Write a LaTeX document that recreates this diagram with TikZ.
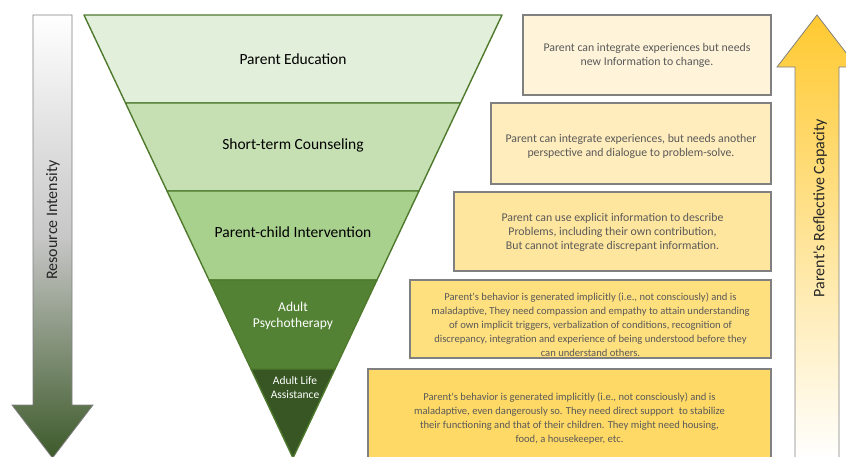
\documentclass[tikz,border=0pt]{standalone}
\usepackage{fontspec}
\setmainfont{Carlito}
\usepackage{xcolor}
\definecolor{band1}{HTML}{E2EFDA}
\definecolor{band2}{HTML}{C6E0B4}
\definecolor{band3}{HTML}{A9D18E}
\definecolor{band4}{HTML}{548235}
\definecolor{band5}{HTML}{375623}
\definecolor{funnelline}{HTML}{4F7A2E}
\definecolor{note1}{HTML}{FFF4DA}
\definecolor{note2}{HTML}{FFEDBD}
\definecolor{note3}{HTML}{FFE69F}
\definecolor{note4}{HTML}{FFE07F}
\definecolor{note5}{HTML}{FFD966}
\definecolor{notetext}{HTML}{595959}
\definecolor{noteline}{HTML}{808080}
\definecolor{capyellow}{HTML}{FFC930}
\definecolor{resgreen}{HTML}{3D5A2A}
\newcommand{\apos}{\textquotesingle}
\tikzset{
    lbl/.style={font=\fontsize{15.5}{18}\selectfont, align=center, text=black},
    wlbl/.style={align=center, text=white},
    notebox/.style={draw=noteline, line width=1.6pt, inner sep=0pt},
    notetxt/.style={align=center, text=notetext, inner sep=0pt},
    sidelbl/.style={rotate=90, font=\fontsize{16}{18}\selectfont, text=black!85}
}
\begin{document}
\begin{tikzpicture}[x=1pt,y=-1pt]
\clip (0,0) rectangle (846,456);
% resource intensity arrow
\shade[top color=white, bottom color=resgreen, middle color=black!22, draw=noteline, line width=0.8pt]
    (33,15) -- (72,15) -- (72,405) -- (93,405) -- (52.5,458) -- (12,405) -- (33,405) -- cycle;
\node[sidelbl] (resint) at (53,220) {Resource Intensity};
% reflective capacity arrow
\shade[top color=capyellow, bottom color=white, draw=noteline, line width=0.8pt]
    (795,460) -- (795,67) -- (777,67) -- (817,15) -- (857,67) -- (839,67) -- (839,460) -- cycle;
\node[sidelbl] (refcap) at (820,208) {Parent\apos s Reflective Capacity};
% funnel bands
\foreach \ya/\yb/\col in {15/103/band1, 103/191/band2, 191/280/band3, 280/369/band4, 369/458/band5}{
    \pgfmathsetmacro\wa{0.47178*(458-\ya)}
    \pgfmathsetmacro\wb{0.47178*(458-\yb)}
    \filldraw[fill=\col, draw=funnelline, line width=1.4pt, line join=round]
        (293-\wa,\ya) -- (293+\wa,\ya) -- (293+\wb,\yb) -- (293-\wb,\yb) -- cycle;
}
\node[lbl] (edu) at (293,59) {Parent Education};
\node[lbl] (stc) at (293,145) {Short-term Counseling};
\node[lbl] (pci) at (293,232) {Parent-child Intervention};
\node[wlbl, font=\fontsize{13.5}{16}\selectfont] (psy) at (293,316) {Adult\\Psychotherapy};
\node[wlbl, font=\fontsize{11.5}{14}\selectfont] (ala) at (295,388) {Adult Life\\Assistance};
% notes
\foreach \xl/\yt/\yb/\ty/\fs/\col/\txt [count=\i] in {
    523/15/95/55/11.8/note1/{Parent can integrate experiences but needs\\new Information to change.},
    491/103/184/146/11.8/note2/{Parent can integrate experiences, but needs another\\perspective and dialogue to problem-solve.},
    454/192/271/232/11.8/note3/{Parent can use explicit information to describe\\Problems, including their own contribution,\\But cannot integrate discrepant information.},
    410/280/358/325/10.6/note4/{Parent\apos s behavior is generated implicitly (i.e., not consciously) and is\\maladaptive, They need compassion and empathy to attain understanding\\of own implicit triggers, verbalization of conditions, recognition of\\discrepancy, integration and experience of being understood before they\\can understand others.},
    368/369/470/418/10.6/note5/{Parent\apos s behavior is generated implicitly (i.e., not consciously) and is\\maladaptive, even dangerously so. They need direct support\ \ to stabilize\\their functioning and that of their children. They might need housing,\\food, a housekeeper, etc.}}{
    \draw[notebox, fill=\col] (\xl,\yt) rectangle (771,\yb);
    \node[notetxt, font=\fontsize{\fs}{14}\selectfont] (note\i) at ({(\xl+771)/2},\ty) {\txt};
}
\end{tikzpicture}
\end{document}
